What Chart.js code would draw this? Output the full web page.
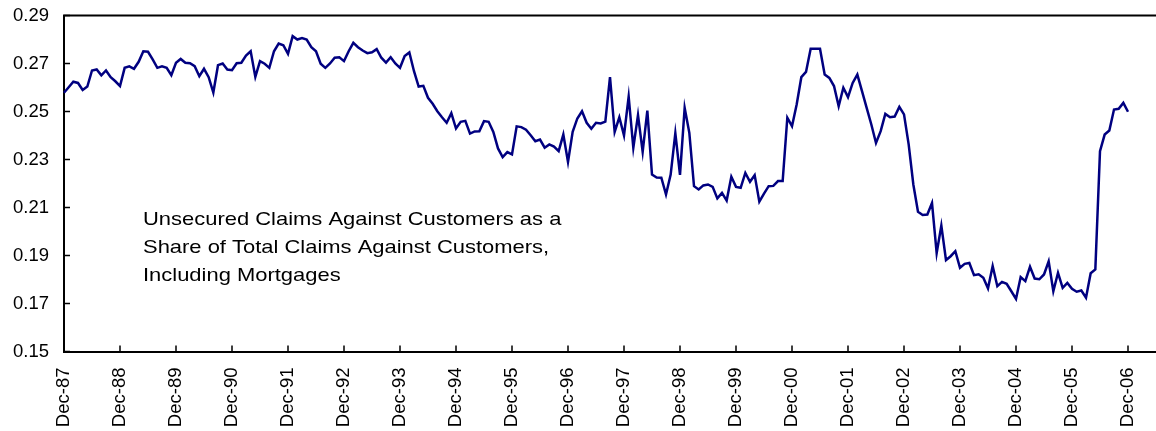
<!DOCTYPE html>
<html>
<head>
<meta charset="utf-8">
<script src="https://cdn.jsdelivr.net/npm/chart.js@4.4.1/dist/chart.umd.min.js"></script>
<style>
html, body { margin: 0; padding: 0; background: #fff; }
</style>
</head>
<body>
<canvas id="chart" width="1156" height="431"></canvas>
<script>
const monthNames = ['Jan', 'Feb', 'Mar', 'Apr', 'May', 'Jun', 'Jul', 'Aug', 'Sep', 'Oct', 'Nov', 'Dec'];

// categories: Dec-87 ... Jun-07 (axis runs half a year past the last point)
const months = [];
for (let k = 0; k < 235; k++) {
    const m = (11 + k) % 12;
    const yr = 1987 + Math.floor((11 + k) / 12);
    months.push(monthNames[m] + '-' + String(yr).slice(2));
}

// share of unsecured claims, monthly from Dec-87 to Dec-06
const unsecuredShare = [
    0.2578,
    0.2601, 0.2624, 0.2619, 0.2590, 0.2604, 0.2671, 0.2675, 0.2651, 0.2671, 0.2643, 0.2626, 0.2606,
    0.2682, 0.2688, 0.2678, 0.2707, 0.2751, 0.2749, 0.2717, 0.2682, 0.2688, 0.2682, 0.2651, 0.2703,
    0.2719, 0.2703, 0.2701, 0.2689, 0.2647, 0.2678, 0.2643, 0.2579, 0.2693, 0.2700, 0.2675, 0.2672,
    0.2701, 0.2703, 0.2733, 0.2751, 0.2644, 0.2710, 0.2699, 0.2682, 0.2751, 0.2783, 0.2776, 0.2740,
    0.2814, 0.2800, 0.2806, 0.2800, 0.2768, 0.2751, 0.2699, 0.2682, 0.2700, 0.2724, 0.2726, 0.2710,
    0.2751, 0.2786, 0.2768, 0.2754, 0.2743, 0.2747, 0.2760, 0.2724, 0.2704, 0.2726, 0.2700, 0.2682,
    0.2731, 0.2746, 0.2668, 0.2604, 0.2607, 0.2557, 0.2532, 0.2501, 0.2476, 0.2453, 0.2493, 0.2429,
    0.2457, 0.2461, 0.2408, 0.2417, 0.2418, 0.2460, 0.2457, 0.2415, 0.2346, 0.2310, 0.2331, 0.2321,
    0.2438, 0.2435, 0.2424, 0.2401, 0.2376, 0.2383, 0.2349, 0.2363, 0.2354, 0.2335, 0.2404, 0.2290,
    0.2415, 0.2471, 0.2501, 0.2453, 0.2428, 0.2453, 0.2450, 0.2458, 0.2643, 0.2415, 0.2476, 0.2400,
    0.2562, 0.2349, 0.2485, 0.2332, 0.2504, 0.2237, 0.2225, 0.2224, 0.2154, 0.2237, 0.2410, 0.2236,
    0.2515, 0.2411, 0.2189, 0.2175, 0.2192, 0.2196, 0.2186, 0.2138, 0.2161, 0.2129, 0.2228, 0.2186,
    0.2182, 0.2244, 0.2207, 0.2235, 0.2124, 0.2158, 0.2189, 0.2190, 0.2210, 0.2210, 0.2474, 0.2439,
    0.2529, 0.2643, 0.2665, 0.2761, 0.2761, 0.2761, 0.2654, 0.2640, 0.2606, 0.2522, 0.2599, 0.2560,
    0.2619, 0.2654, 0.2585, 0.2515, 0.2446, 0.2369, 0.2418, 0.2490, 0.2476, 0.2479, 0.2519, 0.2488,
    0.2363, 0.2196, 0.2082, 0.2069, 0.2071, 0.2119, 0.1910, 0.2025, 0.1881, 0.1897, 0.1918, 0.1849,
    0.1865, 0.1869, 0.1818, 0.1822, 0.1807, 0.1763, 0.1856, 0.1772, 0.1790, 0.1782, 0.1751, 0.1719,
    0.1810, 0.1793, 0.1853, 0.1804, 0.1801, 0.1821, 0.1876, 0.1751, 0.1828, 0.1765, 0.1786, 0.1761,
    0.1749, 0.1754, 0.1724, 0.1826, 0.1842, 0.2335, 0.2404, 0.2421, 0.2508, 0.2511, 0.2536, 0.2499
];

const yMin = 0.15;
const yMax = 0.29;
const yStep = 0.02;

const noteLines = [
    'Unsecured Claims Against Customers as a',
    'Share of Total Claims Against Customers,',
    'Including Mortgages'
];

Chart.defaults.font.family = 'Arial, "Liberation Sans", sans-serif';
Chart.defaults.color = '#000';

// top border, inward tick marks and the note text
const frameAndNote = {
    id: 'frameAndNote',
    afterDraw(chart) {
        const { ctx, chartArea, scales } = chart;
        const x = scales.x, y = scales.y;
        ctx.save();
        ctx.strokeStyle = '#000';
        ctx.lineWidth = 2;
        ctx.beginPath();
        ctx.moveTo(chartArea.left - 1, chartArea.top);
        ctx.lineTo(chartArea.right, chartArea.top);
        ctx.stroke();

        ctx.lineWidth = 1.5;
        ctx.beginPath();
        x.ticks.forEach((t, i) => {
            if (months[i].startsWith('Dec')) {
                const px = x.getPixelForTick(i);
                ctx.moveTo(px, chartArea.bottom);
                ctx.lineTo(px, chartArea.bottom - 6);
            }
        });
        y.ticks.forEach((t, i) => {
            const py = y.getPixelForTick(i);
            ctx.moveTo(chartArea.left, py);
            ctx.lineTo(chartArea.left + 6, py);
        });
        ctx.stroke();

        ctx.font = '19px Arial, "Liberation Sans", sans-serif';
        ctx.fillStyle = '#000';
        noteLines.forEach((line, k) => {
            ctx.save();
            ctx.translate(chartArea.left + 79, chartArea.top + 209.5 + k * 28);
            ctx.scale(1.155, 1);
            ctx.fillText(line, 0, 0);
            ctx.restore();
        });
        ctx.restore();
    }
};

const ctx = document.getElementById('chart').getContext('2d');
const chart = new Chart(ctx, {
    type: 'line',
    data: {
        labels: months,
        datasets: [{
            data: unsecuredShare,
            borderColor: '#000080',
            borderWidth: 2.5,
            pointRadius: 0,
            tension: 0,
            fill: false
        }]
    },
    options: {
        responsive: false,
        animation: false,
        devicePixelRatio: 1,
        layout: { padding: { top: 15.5, right: 0, bottom: 0, left: 0 } },
        plugins: {
            legend: { display: false },
            tooltip: { enabled: false }
        },
        scales: {
            x: {
                type: 'category',
                offset: false,
                grid: { display: false, drawTicks: false },
                border: { display: true, color: '#000', width: 2 },
                ticks: {
                    autoSkip: false,
                    minRotation: 90,
                    maxRotation: 90,
                    padding: 16,
                    font: { size: 18.5 },
                    callback: (v, i) => months[i].startsWith('Dec') ? months[i] : ''
                },
                afterFit: (scale) => {
                    scale.height = 79.5;
                    scale.paddingLeft = 0;
                    scale.paddingRight = 0;
                }
            },
            y: {
                min: yMin,
                max: yMax,
                grid: { display: false, drawTicks: false },
                border: { display: true, color: '#000', width: 2 },
                ticks: {
                    stepSize: yStep,
                    padding: 15,
                    font: { size: 18.5 },
                    callback: (v) => v.toFixed(2)
                },
                afterFit: (scale) => {
                    scale.width = 64;
                    scale.paddingTop = 0;
                    scale.paddingBottom = 0;
                }
            }
        }
    },
    plugins: [frameAndNote]
});
</script>
</body>
</html>
